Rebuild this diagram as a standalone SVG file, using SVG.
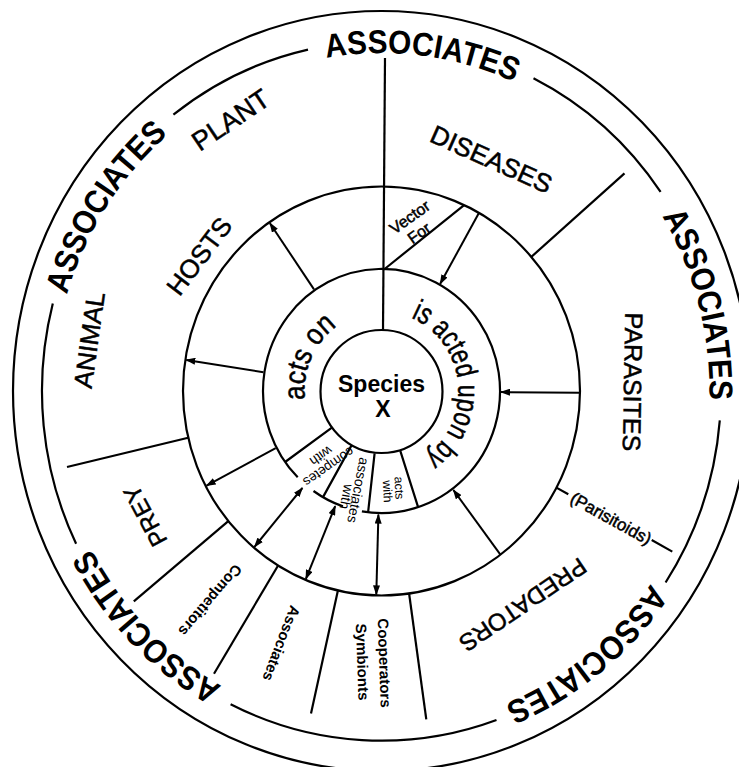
<svg xmlns="http://www.w3.org/2000/svg" width="739" height="767" viewBox="0 0 739 767">
<defs>
<style>
.ln{fill:none;stroke:#000;stroke-width:2.2}
.t{font-family:"Liberation Sans",Arial,Helvetica,sans-serif;fill:#000;text-anchor:middle}
.r{stroke:#000;stroke-width:0.5}
.b{font-weight:bold}
.ar{fill:none;stroke:#000;stroke-width:2;marker-end:url(#ah)}
.da{fill:none;stroke:#000;stroke-width:2;marker-start:url(#ah);marker-end:url(#ah)}
</style>
<marker id="ah" viewBox="0 0 10 7" refX="9" refY="3.5" markerWidth="10" markerHeight="7" markerUnits="userSpaceOnUse" orient="auto-start-reverse"><path d="M0,0 L10,3.5 L0,7 z" fill="#000"/></marker>
<path id="pa1" d="M179.6,124.8 A328,337.8 0 0 1 640.0,183.0"/>
<path id="pa2" d="M60.3,459.5 A328,337.8 0 0 1 315.0,60.2"/>
<path id="pa3" d="M545.5,98.5 A328,337.8 0 0 1 665.5,559.9"/>
<path id="pa4" d="M707.3,430.4 A328,337.8 0 0 1 343.2,726.5"/>
<path id="pa5" d="M379.8,728.8 A328,337.8 0 0 1 53.5,389.2"/>
<path id="pActs" d="M332.4,452.1 A77,79.3 0 0 1 394.3,312.8"/>
<path id="pActed" d="M374.8,312.0 A77,79.3 0 0 1 390.9,469.7"/>
</defs>
<rect width="739" height="767" fill="#fff"/>

<g id="associates-ring">
<ellipse class="ln" cx="381.5" cy="391" rx="368.5" ry="380"/>
<path class="ln" d="M719.8,420.3 A339.5,349.7 0 0 1 665.6,582.5 M496.5,720.0 A339.5,349.7 0 0 1 230.6,704.2 M76.1,543.8 A339.5,349.7 0 0 1 52.8,303.4 M173.4,114.7 A339.5,349.7 0 0 1 308.0,49.6 M533.5,78.3 A339.5,349.7 0 0 1 660.6,191.9"/>
<text class="t b" font-size="33"><textPath href="#pa1" startOffset="50%" textLength="192" lengthAdjust="spacingAndGlyphs">ASSOCIATES</textPath></text>
<text class="t b" font-size="33"><textPath href="#pa2" startOffset="50%" textLength="192" lengthAdjust="spacingAndGlyphs">ASSOCIATES</textPath></text>
<text class="t b" font-size="33"><textPath href="#pa3" startOffset="50%" textLength="192" lengthAdjust="spacingAndGlyphs">ASSOCIATES</textPath></text>
<text class="t b" font-size="33"><textPath href="#pa4" startOffset="50%" textLength="192" lengthAdjust="spacingAndGlyphs">ASSOCIATES</textPath></text>
<text class="t b" font-size="33"><textPath href="#pa5" startOffset="50%" textLength="192" lengthAdjust="spacingAndGlyphs">ASSOCIATES</textPath></text>
</g>

<g id="outer-dividers">
<path class="ln" d="M383,330 L385,58"/>
<path class="ln" d="M531.3,256.9 L624.5,173.4"/>
<path class="ln" d="M556.4,487.6 L568.3,494.2 M651.7,540 L672.3,551.6"/>
<path class="ln" d="M409.1,593.5 L426.3,719.4"/>
<path class="ln" d="M337.9,590.4 L311.0,713.5"/>
<path class="ln" d="M278.1,565.5 L214.0,673.7"/>
<path class="ln" d="M228.3,521.1 L133.8,601.3"/>
<path class="ln" d="M188.2,437.7 L67.0,467.0"/>
</g>

<g id="hosts-ring">
<ellipse class="ln" cx="381.5" cy="391" rx="198.5" ry="204.5"/>
</g>

<g id="plant-associates"><text class="t r" font-size="27" transform="translate(230.5 119.5) rotate(-34)" y="9.7">PLANT</text></g>
<g id="animal-associates"><text class="t r" font-size="26" transform="translate(89 340) rotate(-82)" y="9.3">ANIMAL</text></g>
<g id="hosts"><text class="t r" font-size="26" transform="translate(199 256) rotate(-53)" y="9.3">HOSTS</text></g>
<g id="diseases"><text class="t r" font-size="26" transform="translate(491.5 159) rotate(24)" y="9.3">DISEASES</text></g>
<g id="vector-for">
<text class="t r" font-size="16" transform="translate(410 217.5) rotate(-35.4)" y="5">Vector</text>
<text class="t r" font-size="16" transform="translate(419.5 233.5) rotate(-35.4)" y="5">For</text>
</g>
<g id="parasites"><text class="t r" font-size="25" transform="translate(633 382) rotate(91)" y="9">PARASITES</text></g>
<g id="parisitoids"><text class="t r" font-size="17" transform="translate(610.8 518.8) rotate(29)" y="5.5">(Parisitoids)</text></g>
<g id="predators"><text class="t r" font-size="24" transform="translate(523 605) rotate(146)" y="8.6">PREDATORS</text></g>
<g id="cooperators-symbionts">
<text class="t b" font-size="15" transform="translate(384 663) rotate(88)" y="4.8">Cooperators</text>
<text class="t b" font-size="15" transform="translate(362 662) rotate(88)" y="4.8">Symbionts</text>
</g>
<g id="associates"><text class="t b" font-size="15" transform="translate(281 643.3) rotate(111)" y="4.8">Associates</text></g>
<g id="competitors"><text class="t b" font-size="15" transform="translate(210 600) rotate(130.4)" y="4.8">Competitors</text></g>
<g id="prey"><text class="t r" font-size="24" transform="translate(145 516) rotate(-118)" y="8.6">PREY</text></g>

<g id="interaction-ring">
<path class="ln" d="M297.7,477.3 A118.5,122.06 0 1 1 361.9,511.4 M342.9,506.4 A118.5,122.06 0 0 1 313.5,491.0"/>
<path class="ln" d="M331.9,427.6 L285.1,462.0 M351.4,445.6 L323.0,497.1 M374.6,453.4 L368.1,512.3 M400.3,450.8 L418.1,507.1"/>
</g>
<g id="acts-on"><text class="t r" font-size="30"><textPath href="#pActs" startOffset="50%" textLength="84" lengthAdjust="spacingAndGlyphs">acts on</textPath></text></g>
<g id="is-acted-upon-by"><text class="t r" font-size="30"><textPath href="#pActed" startOffset="50%" textLength="168" lengthAdjust="spacingAndGlyphs">is acted upon by</textPath></text></g>
<g id="competes-with">
<text class="t" font-size="13.5" transform="translate(328 466) rotate(145)" y="3.5">competes</text>
<text class="t" font-size="13.5" transform="translate(320.5 455) rotate(145)" y="3.5">with</text>
</g>
<g id="associates-with">
<text class="t" font-size="14" transform="translate(357 490) rotate(101)" y="3.6">associates</text>
<text class="t" font-size="14" transform="translate(345.5 496.5) rotate(101)" y="3.6">with</text>
</g>
<g id="acts-with">
<text class="t" font-size="12.5" transform="translate(398.3 488) rotate(87)" y="3.3">acts</text>
<text class="t" font-size="12.5" transform="translate(386.7 491.5) rotate(87)" y="3.3">with</text>
</g>

<g id="species-x">
<ellipse class="ln" cx="381.5" cy="391.5" rx="61" ry="61.5"/>
<text class="t b" font-size="23" x="381.5" y="392">Species</text>
<text class="t b" font-size="23" x="383" y="417">X</text>
</g>

<g id="connectors">
<path class="ar" d="M314.0,289.4 L269.9,223.2"/>
<path class="ar" d="M263.4,372.2 L186.3,359.9"/>
<path class="ar" d="M275.7,448.2 L206.6,485.6"/>
<path class="da" d="M302.4,488.0 L254.5,546.8"/>
<path class="da" d="M335.2,506.1 L305.9,578.9"/>
<path class="da" d="M378.4,514.6 L376.3,594.4"/>
<path class="ar" d="M500.4,554.7 L453.4,490.0"/>
<path class="ar" d="M580.0,392.8 L501.0,392.1"/>
<path class="ar" d="M478.9,212.9 L440.2,283.8"/>
<path class="ln" d="M384,269.5 L464.1,205.1"/>
</g>
</svg>
